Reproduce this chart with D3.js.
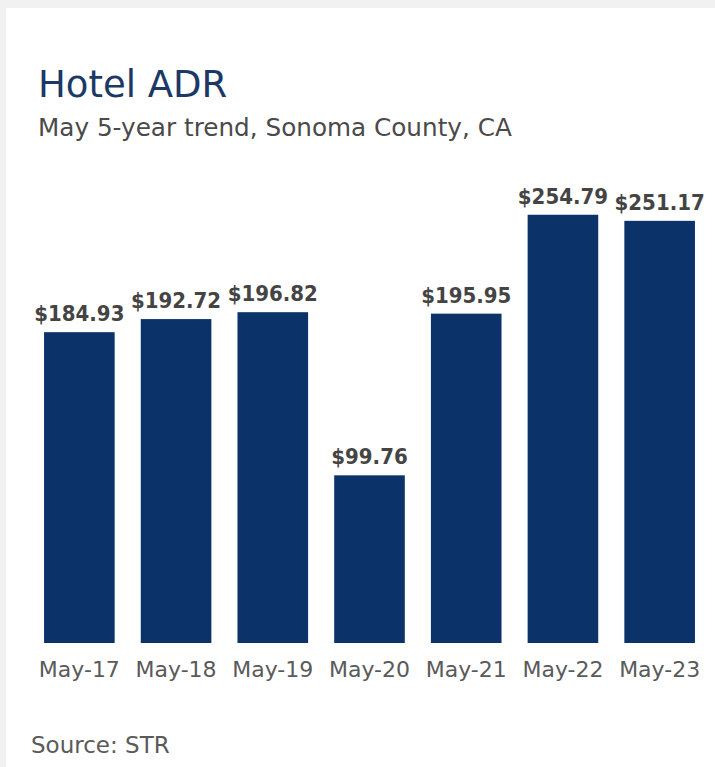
<!DOCTYPE html>
<html>
<head>
<meta charset="utf-8">
<script src="https://cdn.jsdelivr.net/npm/d3@7"></script>
<style>
  body { margin: 0; background: #f1f1f1; }
  svg { display: block; }
</style>
</head>
<body>
<div id="chart"></div>
<script>
// chart data
const months = ["May-17", "May-18", "May-19", "May-20", "May-21", "May-22", "May-23"];
const adrValues = [184.93, 192.72, 196.82, 99.76, 195.95, 254.79, 251.17];

const titleText = "Hotel ADR";
const subtitleText = "May 5-year trend, Sonoma County, CA";
const sourceText = "Source: STR";

let width = 715;
let height = 767;
let svg = d3.select("#chart")
  .append("svg")
  .attr("width", width)
  .attr("height", height);

// card background with grey edge top/left
svg.append("rect")
  .attr("width", width)
  .attr("height", height)
  .attr("fill", "#f1f1f1");
svg.append("rect")
  .attr("x", 6)
  .attr("y", 8)
  .attr("width", width - 6)
  .attr("height", height - 8)
  .attr("fill", "#ffffff");

const barColor = "#0b3269";
const baseY = 643;

let x = d3.scaleBand()
  .domain(months)
  .range([31, 708])
  .paddingInner(0.27)
  .paddingOuter(0.135);

let y = d3.scaleLinear()
  .domain([0, 260])
  .range([baseY, baseY - 437]);

// title + subtitle
svg.append("text")
  .attr("x", 38)
  .attr("y", 97)
  .attr("font-family", "DejaVu Sans")
  .attr("font-size", 37)
  .attr("fill", "#1b3866")
  .text(titleText);

svg.append("text")
  .attr("x", 38)
  .attr("y", 136)
  .attr("font-family", "DejaVu Sans")
  .attr("font-size", 24.7)
  .attr("fill", "#4a4a4a")
  .text(subtitleText);

// bars
svg.selectAll("rect.bar")
  .data(adrValues)
  .enter()
    .append("rect")
    .attr("class", "bar")
    .attr("x", (d, i) => x(months[i]))
    .attr("y", d => y(d))
    .attr("width", x.bandwidth())
    .attr("height", d => baseY - y(d))
    .attr("fill", barColor);

// value labels
svg.selectAll("text.value")
  .data(adrValues)
  .enter()
    .append("text")
    .attr("class", "value")
    .attr("x", (d, i) => x(months[i]) + x.bandwidth() / 2)
    .attr("y", d => y(d) - 11)
    .attr("text-anchor", "middle")
    .attr("font-family", "DejaVu Sans Condensed, DejaVu Sans")
    .attr("font-weight", "bold")
    .attr("font-size", 22)
    .attr("fill", "#444444")
    .text(d => "$" + d3.format(".2f")(d));

// category axis (no line, no ticks)
let xAxis = svg.append("g")
  .attr("transform", "translate(0," + baseY + ")")
  .call(d3.axisBottom(x).tickSize(0).tickPadding(18));
xAxis.select(".domain").remove();
xAxis.selectAll("text")
  .attr("font-family", "DejaVu Sans")
  .attr("font-size", 22)
  .attr("fill", "#5a5a5a");

// source note
svg.append("text")
  .attr("x", 31)
  .attr("y", 753)
  .attr("font-family", "DejaVu Sans")
  .attr("font-size", 23)
  .attr("fill", "#5a5a5a")
  .text(sourceText);
</script>
</body>
</html>
